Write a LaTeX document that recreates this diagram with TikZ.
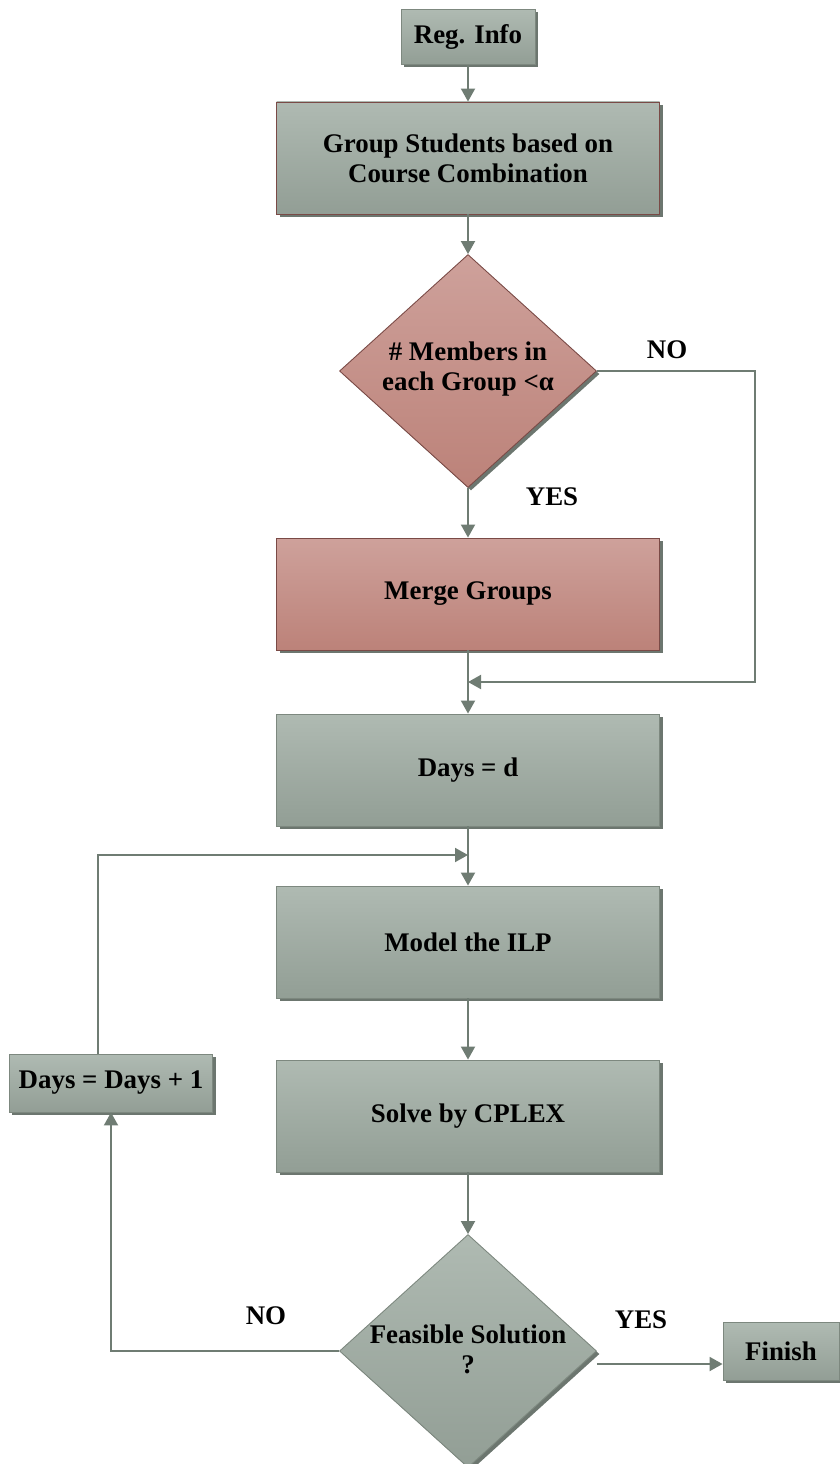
\documentclass[tikz,border=0pt]{standalone}
\usepackage{fontspec}
\setmainfont{Liberation Serif}
\usetikzlibrary{shapes.geometric,shadows,arrows.meta}

\definecolor{boxtop}{HTML}{AFBAB2}
\definecolor{boxbot}{HTML}{929E95}
\definecolor{boxline}{HTML}{7D887F}
\definecolor{pinktop}{HTML}{CEA19B}
\definecolor{pinkbot}{HTML}{BC8279}
\definecolor{redline}{HTML}{7A4A46}
\definecolor{shade}{HTML}{6C766F}
\definecolor{flow}{HTML}{6F7C73}

\newcommand\chartfont{\fontsize{15.3}{17.2}\selectfont\bfseries}

\tikzset{
  basebox/.style={rectangle, inner sep=0pt, line width=0.5pt,
    font=\chartfont, align=center,
    drop shadow={shadow xshift=0.6mm, shadow yshift=-0.6mm, opacity=1, fill=shade}},
  greybox/.style={basebox, draw=boxline, top color=boxtop, bottom color=boxbot},
  greyboxr/.style={basebox, draw=redline, top color=boxtop, bottom color=boxbot},
  pinkbox/.style={basebox, draw=redline, top color=pinktop, bottom color=pinkbot},
  bigbox/.style={minimum width=76.6mm, minimum height=22.4mm},
  decide/.style={diamond, inner sep=0pt, line width=0.5pt,
    minimum width=51.4mm, minimum height=46.6mm,
    drop shadow={shadow xshift=0.6mm, shadow yshift=-0.6mm, opacity=1, fill=shade}},
  dtext/.style={font=\chartfont, align=center, inner sep=0pt},
  tag/.style={font=\chartfont, inner sep=0pt},
  flowline/.style={draw=flow, line width=1.1pt,
    -{Triangle[length=2.6mm, width=2.8mm]}},
}

\begin{document}
\begin{tikzpicture}[x=0.2mm, y=-0.2mm]
\useasboundingbox (0,0) rectangle (840,1464);

% process boxes
\node[greybox, minimum width=26.8mm, minimum height=11mm] (reg) at (468,37) {Reg. Info};
\node[greyboxr, bigbox] (group) at (468,158) {Group Students based on\\Course Combination};
\node[decide, draw=redline, top color=pinktop, bottom color=pinkbot] (d1) at (468,371) {};
\node[dtext] (d1t) at (468,369) {\# Members in\\each Group <α};
\node[pinkbox, bigbox] (merge) at (468,594) {Merge Groups};
\node[greybox, bigbox] (daysd) at (468,770) {Days = d};
\node[greybox, bigbox] (model) at (468,942) {Model the ILP};
\node[greybox, bigbox] (solve) at (468,1116) {Solve by CPLEX};
\node[decide, draw=boxline, top color=boxtop, bottom color=boxbot] (d2) at (468,1351) {};
\node[dtext] (d2t) at (468,1349) {Feasible Solution\\?};
\node[greybox, minimum width=23.2mm, minimum height=11.6mm] (finish) at (781,1351) {Finish};
\node[greybox, minimum width=40.6mm, minimum height=11.6mm] (inc) at (111,1083) {Days = Days + 1};

% branch labels
\node[tag] (no1) at (667,350) {NO};
\node[tag] (yes1) at (552,497) {YES};
\node[tag] (yes2) at (641,1320) {YES};
\node[tag] (no2) at (266,1316) {NO};

% junction points on the main trunk
\coordinate (j1) at (468,682);
\coordinate (c1) at (755,682);
\coordinate (j2) at (468,855);

% main flow
\draw[flowline] (reg.south) -- (group.north);
\draw[flowline] (group.south) -- (d1.north);
\draw[flowline] (d1.south) -- (merge.north);
\draw[flowline] (merge.south) -- (daysd.north);
\draw[flowline] (daysd.south) -- (model.north);
\draw[flowline] (model.south) -- (solve.north);
\draw[flowline] (solve.south) -- (d2.north);

% skip merge when the groups are large enough
\draw[flowline] (d1.east) -| (c1) -- (j1);

% feasible: finish
\draw[flowline] ([yshift=-2.6mm]d2.east) -- ([yshift=-2.6mm]finish.west);

% infeasible: one more day, then back to the model
\draw[flowline] (d2.west) -| (inc.south);
\draw[flowline] ([xshift=-2.6mm]inc.north) |- (j2);
\end{tikzpicture}
\end{document}
